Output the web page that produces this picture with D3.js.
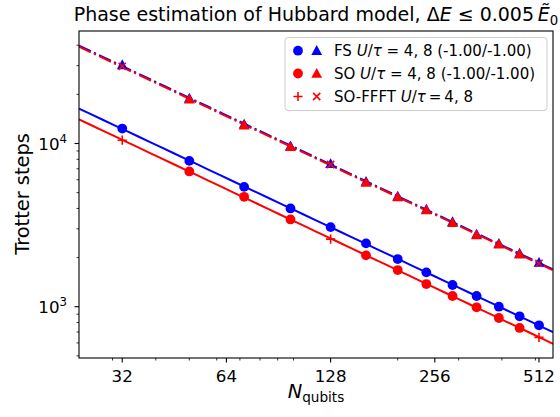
<!DOCTYPE html>
<html><head><meta charset="utf-8">
<script src="https://cdn.jsdelivr.net/npm/d3@7"></script>
<style>body{margin:0;background:#fff}svg{display:block;font-family:"DejaVu Sans",sans-serif}</style>
</head><body><svg id="c" width="560" height="417"></svg>
<script>
// ---- data ----
const N_ALL = [32, 50, 72, 98, 128, 162, 200, 242, 288, 338, 392, 450, 512];
const N_SO  = [50, 72, 98, 162, 200, 242, 288, 338, 392, 450];
const N_FFFT = [32, 128, 512];
const FS_U4 = [12350, 7826, 5425, 4001, 3074, 2443, 1958, 1624, 1358, 1163, 1000, 873, 769];
const FS_U8 = [30300, 18900, 13100, 9650, 7510, 5840, 4750, 3950, 3310, 2780, 2440, 2120, 1865];
const SO_U4 = [6740, 4712, 3426, 2064, 1677, 1377, 1163, 992, 853, 741];
const SO_U8 = [18666, 12943, 9533, 5770, 4693, 3907, 3267, 2747, 2409, 2093];
const FFFT_U4 = [10476, 2596, 649];
const FFFT_U8 = [29720, 7437, 1843];
const X_TICKS = [32, 64, 128, 256, 512];
const X_MINOR = [30, 40, 50, 60, 70, 80, 90, 100, 200, 300, 400, 500];
const Y_TICKS = [1000, 10000];
const Y_MINOR = [500, 600, 700, 800, 900, 2000, 3000, 4000, 5000, 6000, 7000, 8000, 9000, 20000, 30000, 40000];
const LEGEND = [
  {parts: [["FS ", 0], ["U", 1], ["/", 0], ["τ", 1], [" = 4, 8 (-1.00/-1.00)", 0]]},
  {parts: [["SO ", 0], ["U", 1], ["/", 0], ["τ", 1], [" = 4, 8 (-1.00/-1.00)", 0]]},
  {parts: [["SO-FFFT ", 0], ["U", 1], ["/", 0], ["τ", 1], ["\u2009=\u20094, 8", 0]]}
];
const BLUE = "#0000ff", RED = "#ff0000";

const svg = d3.select("#c");
const L = 79, R = 553, T = 31, B = 358;
const x = d3.scaleLog().base(2).domain([24, 562]).range([L, R]);
const y = d3.scaleLog().domain([485, 48900]).range([B, T]);

function fit(xs, ys) {
  const lx = xs.map(Math.log), ly = ys.map(Math.log);
  const mx = d3.mean(lx), my = d3.mean(ly);
  const b = d3.sum(lx, (v, i) => (v - mx) * (ly[i] - my)) / d3.sum(lx, v => (v - mx) ** 2);
  const a = my - b * mx;
  return n => Math.exp(a + b * Math.log(n));
}
const dom = x.domain();
const xsLine = d3.range(0, 41).map(i => dom[0] * Math.pow(dom[1] / dom[0], i / 40));
const line = f => d3.line().x(d => x(d)).y(d => y(f(d)))(xsLine);

const g = svg.append("g");
svg.append("clipPath").attr("id", "cp").append("rect").attr("x", L).attr("y", T).attr("width", R - L).attr("height", B - T);
const pg = g.append("g").attr("clip-path", "url(#cp)");

const fFS4 = fit(N_ALL, FS_U4);
const fSO4 = fit(N_SO.concat(N_FFFT), SO_U4.concat(FFFT_U4));
const fFS8 = fit(N_ALL, FS_U8);
const fSO8 = fit(N_SO.concat(N_FFFT), SO_U8.concat(FFFT_U8));
const DASH = "13,3.5,2.2,3.5";
pg.append("path").attr("d", line(fFS4)).attr("fill", "none").attr("stroke", BLUE).attr("stroke-width", 2);
pg.append("path").attr("d", line(fFS8)).attr("fill", "none").attr("stroke", BLUE).attr("stroke-width", 2).attr("stroke-dasharray", DASH);
pg.append("path").attr("d", line(fSO4)).attr("fill", "none").attr("stroke", RED).attr("stroke-width", 2);
pg.append("path").attr("d", line(fSO8)).attr("fill", "none").attr("stroke", RED).attr("stroke-width", 2).attr("stroke-dasharray", DASH);

function plusPath(s) { return `M${-s},0H${s}M0,${-s}V${s}`; }
function xPath(s) { return `M${-s},${-s}L${s},${s}M${-s},${s}L${s},${-s}`; }

function markers(xs, ys, kind, color) {
  xs.forEach((n, i) => drawMarker(pg, x(n), y(ys[i]), kind, color));
}
function drawMarker(par, tx, ty, kind, color) {
  const t = `translate(${tx},${ty})`;
  if (kind === "circle") par.append("circle").attr("cx", tx).attr("cy", ty).attr("r", 4.9).attr("fill", color);
  else if (kind === "tri") par.append("path").attr("d", "M0,-5.6L5.4,4.2L-5.4,4.2Z").attr("transform", t).attr("fill", color);
  else if (kind === "plus") par.append("path").attr("d", plusPath(4.6)).attr("transform", t).attr("stroke", color).attr("stroke-width", 1.6).attr("fill", "none");
  else if (kind === "x") par.append("path").attr("d", xPath(3.6)).attr("transform", t).attr("stroke", color).attr("stroke-width", 1.6).attr("fill", "none");
}
markers(N_ALL, FS_U4, "circle", BLUE);
markers(N_ALL, FS_U8, "tri", BLUE);
markers(N_SO, SO_U4, "circle", RED);
markers(N_SO, SO_U8, "tri", RED);
markers(N_FFFT, FFFT_U4, "plus", RED);
markers(N_FFFT, FFFT_U8, "x", RED);

// axes frame
g.append("rect").attr("x", L).attr("y", T).attr("width", R - L).attr("height", B - T).attr("fill", "none").attr("stroke", "#000").attr("stroke-width", 1.1);

// x ticks
const xa = g.append("g");
X_TICKS.forEach(t => {
  xa.append("line").attr("x1", x(t)).attr("x2", x(t)).attr("y1", B).attr("y2", B + 4.5).attr("stroke", "#000").attr("stroke-width", 1.1);
  xa.append("text").attr("x", x(t)).attr("y", 381.5).attr("text-anchor", "middle").attr("font-size", 16.7).text(t);
});
X_MINOR.filter(t => t > dom[0] && t < dom[1]).forEach(t => {
  xa.append("line").attr("x1", x(t)).attr("x2", x(t)).attr("y1", B).attr("y2", B + 2.5).attr("stroke", "#000").attr("stroke-width", 0.8);
});
// y ticks
Y_TICKS.forEach(t => {
  g.append("line").attr("x1", L - 4.5).attr("x2", L).attr("y1", y(t)).attr("y2", y(t)).attr("stroke", "#000").attr("stroke-width", 1.1);
  const tx = g.append("text").attr("x", 67).attr("y", y(t) + 6).attr("text-anchor", "end").attr("font-size", 16.7);
  tx.append("tspan").text("10");
  tx.append("tspan").attr("dy", -7).attr("font-size", 11.7).text(Math.round(Math.log10(t)));
});
Y_MINOR.forEach(t => {
  g.append("line").attr("x1", L - 2.5).attr("x2", L).attr("y1", y(t)).attr("y2", y(t)).attr("stroke", "#000").attr("stroke-width", 0.8);
});

// labels
const xl = g.append("text").attr("x", 316).attr("y", 397.5).attr("text-anchor", "middle").attr("font-size", 19.4);
xl.append("tspan").attr("font-style", "italic").text("N");
xl.append("tspan").attr("dy", 4).attr("font-size", 13.6).text("qubits");
g.append("text").attr("transform", "translate(29,194) rotate(-90)").attr("text-anchor", "middle").attr("font-size", 19.4).text("Trotter steps");

const tt = g.append("text").attr("x", 316).attr("y", 21).attr("text-anchor", "middle").attr("font-size", 19);
tt.append("tspan").text("Phase estimation of Hubbard model, Δ");
tt.append("tspan").attr("font-style", "italic").text("E");
tt.append("tspan").text(" ≤ 0.005\u2009");
tt.append("tspan").attr("font-style", "italic").text("Ẽ");
tt.append("tspan").attr("dy", 4).attr("font-size", 13.3).text("0");

// legend
const lg = g.append("g");
lg.append("rect").attr("x", 285).attr("y", 37.5).attr("width", 262).attr("height", 73).attr("rx", 3)
  .attr("fill", "#fff").attr("fill-opacity", 0.8).attr("stroke", "#cccccc").attr("stroke-width", 1);
const rowY = [50.7, 73.5, 96.5];
const legMarks = [["circle", BLUE, "tri", BLUE], ["circle", RED, "tri", RED], ["plus", RED, "x", RED]];
LEGEND.forEach((row, i) => {
  drawMarker(lg, 298, rowY[i], legMarks[i][0], legMarks[i][1]);
  drawMarker(lg, 316.7, rowY[i], legMarks[i][2], legMarks[i][3]);
  const t = lg.append("text").attr("x", 334).attr("y", rowY[i] + 5.4).attr("font-size", 15);
  row.parts.forEach(p => t.append("tspan").attr("font-style", p[1] ? "italic" : null).text(p[0]));
});
</script></body></html>
